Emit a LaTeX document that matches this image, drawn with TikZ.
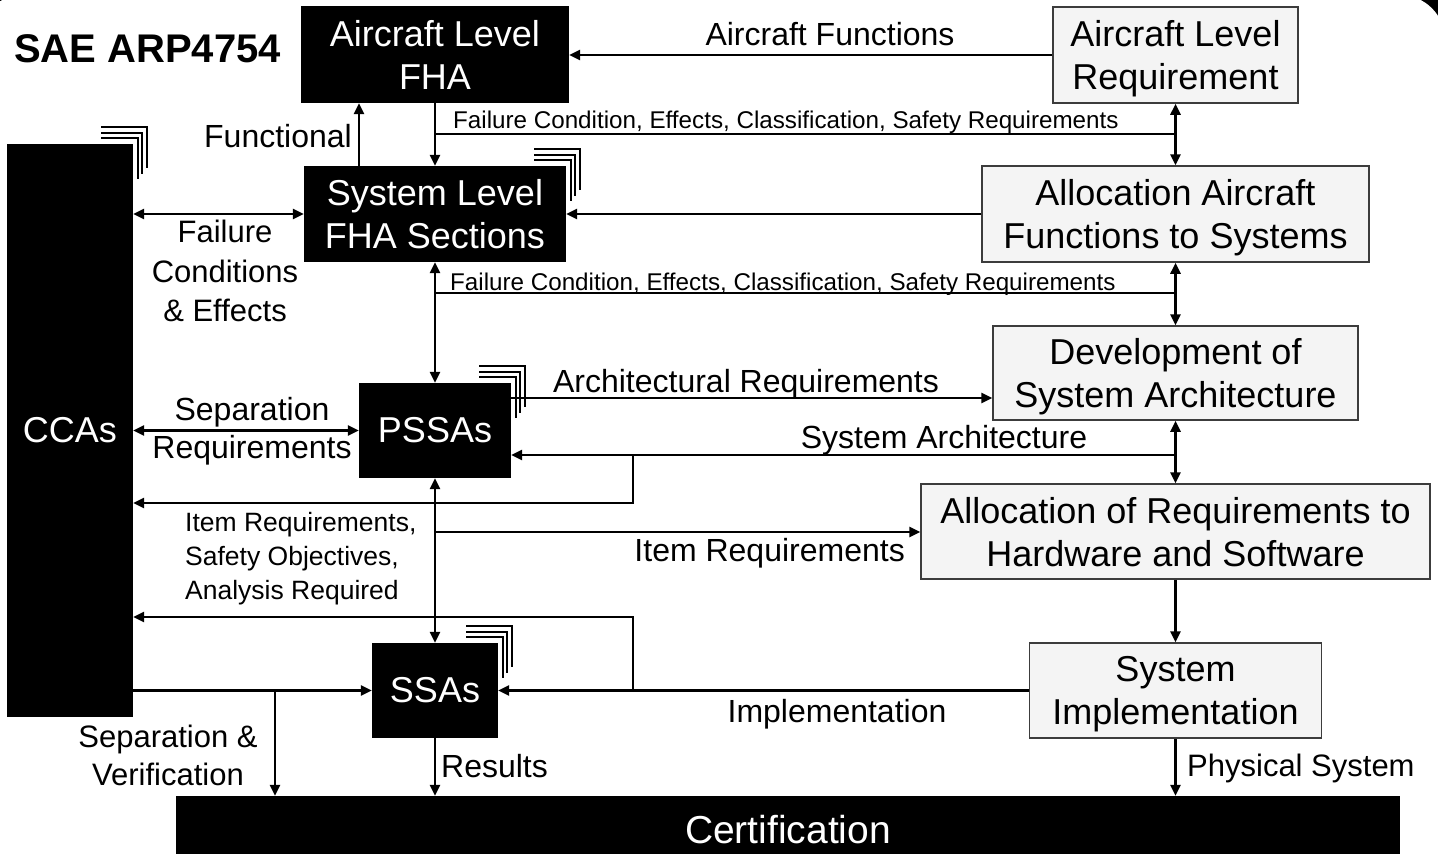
\documentclass[tikz,border=0pt]{standalone}
\usepackage{fontspec}
\setmainfont{Liberation Sans}
\usetikzlibrary{arrows.meta,calc}
\definecolor{boxfill}{HTML}{F4F4F4}
\definecolor{boxline}{HTML}{3C3C3C}
\newcommand\stackmarks[1]{%
  \foreach \k in {1,2,3}{%
    \draw[line width=2.2pt]
      ($(#1.north east)+(-32,-5.5*\k)$) --
      ($(#1.north east)+(4.5*\k,-5.5*\k)$) --
      ($(#1.north east)+(4.5*\k,-5.5*\k+41)$);
  }}
\begin{document}
\begin{tikzpicture}[x=1pt,y=-1pt,
  >={Triangle[length=11pt,width=10pt]},
  blk/.style={fill=black,text=white,inner sep=0pt,align=center,font=\fontsize{36}{43}\selectfont},
  gbx/.style={fill=boxfill,draw=boxline,line width=1.5pt,inner sep=0pt,align=center,text depth=0pt,font=\fontsize{36}{43}\selectfont},
  med/.style={font=\fontsize{32}{39}\selectfont,inner sep=0pt,align=center},
  sml/.style={font=\fontsize{24.2}{28}\selectfont,inner sep=0pt},
  itm/.style={font=\fontsize{26.5}{34}\selectfont,inner sep=0pt,align=left},
  conn/.style={line width=2.5pt},
  arr/.style={conn,->},
  darr/.style={conn,<->}]
% background
\useasboundingbox (0,0) rectangle (1438,854);
\fill[black] (0,0) rectangle (1438,854);
\fill[white,rounded corners=45pt] (-22,-5) rectangle (1445,900);

% title
\node[anchor=base west,inner sep=0pt,font=\fontsize{40}{46}\selectfont\bfseries] (title) at (14,62) {SAE ARP4754};

% black boxes
\node[blk,minimum width=268pt,minimum height=97pt] (afha) at (435,54.5) {Aircraft Level\\FHA};
\node[blk,minimum width=262pt,minimum height=96pt] (sfha) at (435,214) {System Level\\FHA Sections};
\node[blk,minimum width=126pt,minimum height=573pt] (ccas) at (70,430.5) {CCAs};
\node[blk,minimum width=152pt,minimum height=95pt] (pssas) at (435,430.5) {PSSAs};
\node[blk,minimum width=126pt,minimum height=95pt] (ssas) at (435,690.5) {SSAs};
\node[blk,font=\fontsize{39}{46}\selectfont,minimum width=1224pt,minimum height=68pt] (cert) at (788,830) {Certification};

% gray boxes
\node[gbx,minimum width=245pt,minimum height=96pt] (alr) at (1175.5,55) {Aircraft Level\\Requirement};
\node[gbx,minimum width=387pt,minimum height=96pt] (aaf) at (1175.5,214) {Allocation Aircraft\\Functions to Systems};
\node[gbx,minimum width=365pt,minimum height=94pt] (dsa) at (1175.5,373) {Development of\\System Architecture};
\node[gbx,minimum width=509pt,minimum height=95pt] (arhs) at (1175.5,531.5) {Allocation of Requirements to\\Hardware and Software};
\node[gbx,minimum width=292pt,minimum height=95pt] (simp) at (1175.5,690.5) {System\\Implementation};

% stacked marks
\stackmarks{ccas}
\stackmarks{sfha}
\stackmarks{pssas}
\stackmarks{ssas}

% helper coordinates
\coordinate (j1) at (0,134);
\coordinate (j2) at (0,293);
\coordinate (j3) at (0,398);
\coordinate (j4) at (0,455);
\coordinate (j5) at (633,455);
\coordinate (j5b) at (0,503);
\coordinate (j8) at (0,532);
\coordinate (j9) at (0,617);
\coordinate (j6) at (633,690.5);
\coordinate (j7) at (275,690.5);

% connectors
\draw[arr] (alr.west) -- (alr.west -| afha.east);
\draw[arr] ([xshift=-76pt]sfha.north) -- ([xshift=-76pt]sfha.north |- afha.south);
\draw[arr] (afha.south) -- (sfha.north);
\draw[conn] (afha.south |- j1) -- (alr.south |- j1);
\draw[darr] (alr.south) -- (aaf.north);
\draw[arr] (aaf.west) -- (aaf.west -| sfha.east);
\draw[darr] (ccas.east |- sfha.west) -- (sfha.west);
\draw[darr] (sfha.south) -- (pssas.north);
\draw[conn] (sfha.south |- j2) -- (aaf.south |- j2);
\draw[darr] (aaf.south) -- (dsa.north);
\draw[arr] (pssas.east |- j3) -- (dsa.west |- j3);
\draw[darr] (dsa.south) -- (arhs.north);
\draw[arr] (dsa.south |- j4) -- (pssas.east |- j4);
\draw[arr] (j5) |- (ccas.east |- j5b);
\draw[darr] (ccas.east |- pssas.west) -- (pssas.west);
\draw[darr] (pssas.south) -- (ssas.north);
\draw[arr] (pssas.south |- j8) -- (arhs.west |- j8);
\draw[arr] (j6) |- (ccas.east |- j9);
\draw[arr] (simp.west) -- (ssas.east);
\draw[arr] (ccas.east |- ssas.west) -- (ssas.west);
\draw[arr] (j7) -- (j7 |- cert.north);
\draw[arr] (ssas.south) -- (ssas.south |- cert.north);
\draw[arr] (arhs.south) -- (simp.north);
\draw[arr] (simp.south) -- (simp.south |- cert.north);

% labels
\node[med,anchor=base] (lafun) at (830,45) {Aircraft Functions};
\node[med,anchor=base east] (lfunc) at (352,147) {Functional};
\node[sml,anchor=base west] (lfc1) at (453,128) {Failure Condition, Effects, Classification, Safety Requirements};
\node[sml,anchor=base west] (lfc2) at (450,290) {Failure Condition, Effects, Classification, Safety Requirements};
\node[med,anchor=north,font=\fontsize{31}{39.5}\selectfont] (lfce) at (225,220) {Failure\\Conditions\\\& Effects};
\node[med,anchor=north,font=\fontsize{32}{38}\selectfont] (lsep) at (252,397.5) {Separation\\Requirements};
\node[med,anchor=base] (larch) at (746,392) {Architectural Requirements};
\node[med,anchor=base] (lsysa) at (944,448) {System Architecture};
\node[itm,anchor=north west] (litem) at (185,512) {Item Requirements,\\Safety Objectives,\\Analysis Required};
\node[med,anchor=base east] (litem2) at (905,561) {Item Requirements};
\node[med,anchor=base] (limpl) at (837,722) {Implementation};
\node[med,anchor=north,font=\fontsize{31}{38}\selectfont] (lsv) at (168,724.5) {Separation \&\\Verification};
\node[med,anchor=base west] (lres) at (441,777) {Results};
\node[med,anchor=base west,font=\fontsize{31}{38}\selectfont] (lphys) at (1187,776) {Physical System};
\end{tikzpicture}
\end{document}
